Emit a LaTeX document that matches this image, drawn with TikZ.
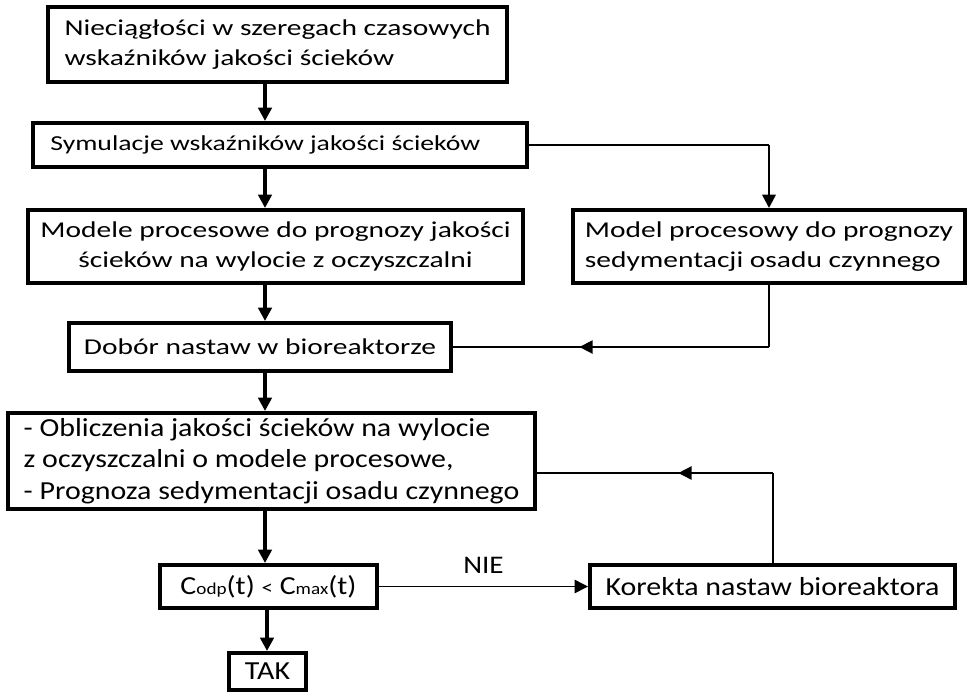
\documentclass[tikz,border=0pt]{standalone}
\usepackage{fontspec}
\setmainfont{Carlito}
\newfontfamily\widefont[FakeStretch=1.3]{Carlito}
\newfontfamily\lowfont[FakeStretch=1.15]{Carlito}
\usetikzlibrary{arrows.meta,decorations.markings,calc}
\begin{document}
\begin{tikzpicture}[x=0.75pt,y=-0.75pt,
  box/.style={draw, line width=3pt, inner sep=0pt, fill=white},
  topbox/.style={box, font=\widefont\fontsize{17}{22.5}\selectfont},
  lowbox/.style={box, font=\lowfont\fontsize{19.5}{23.5}\selectfont},
  tip/.style={-{Triangle[length=10pt,width=10pt]}},
  thickarrow/.style={line width=2.6pt, tip},
  thinline/.style={line width=1.2pt},
  midarrow/.style={postaction={decorate}, decoration={markings,
      mark=at position #1 with {\arrow{Triangle[length=10pt,width=10pt]}}}}
  ]
\useasboundingbox (0,0) rectangle (967,694);
% boxes
\node[topbox, minimum width=344.25pt, minimum height=56.25pt, align=left] (n1) at (277.5,44.5)
  {Nieciągłości w szeregach czasowych\\wskaźników jakości ścieków};
\node[topbox, font=\widefont\fontsize{16}{20}\selectfont, minimum width=370.5pt, minimum height=33pt] (n2) at (280,145)
  {Symulacje wskaźników jakości ścieków\hspace*{22pt}};
\node[topbox, minimum width=371.25pt, minimum height=54.75pt, align=center] (n3) at (275.5,246.5)
  {Modele procesowe do prognozy jakości\\ścieków na wylocie z oczyszczalni};
\node[topbox, minimum width=294pt, minimum height=54.75pt, align=left] (n6) at (769,246.5)
  {Model procesowy do prognozy\\sedymentacji osadu czynnego};
\node[topbox, minimum width=286.5pt, minimum height=36pt] (n4) at (260,347)
  {Dobór nastaw w bioreaktorze};
\node[lowbox, minimum width=395.25pt, minimum height=72pt, align=left] (n5) at (271.5,461)
  {- Obliczenia jakości ścieków na wylocie\\z oczyszczalni o modele procesowe,\\- Prognoza sedymentacji osadu czynnego};
\node[lowbox, minimum width=162.75pt, minimum height=32.25pt] (n7) at (268.5,586.5)
  {C{\fontsize{12.5}{12.5}\selectfont odp}(t) {\fontsize{15}{15}\selectfont <} C{\fontsize{12.5}{12.5}\selectfont max}(t)};
\node[lowbox, minimum width=273.75pt, minimum height=32.25pt] (n8) at (772.5,586.5)
  {Korekta nastaw bioreaktora};
\node[lowbox, minimum width=57.75pt, minimum height=27.75pt] (n9) at (267.5,671.5)
  {TAK};
% arrow column
\coordinate (ax) at (265,0);
\coordinate (bx) at (267,0);
\draw[thickarrow] (n1.south -| ax) -- (n2.north -| ax);
\draw[thickarrow] (n2.south -| ax) -- (n3.north -| ax);
\draw[thickarrow] (n3.south -| ax) -- (n4.north -| ax);
\draw[thickarrow] (n4.south -| ax) -- (n5.north -| ax);
\draw[thickarrow] (n5.south -| ax) -- (n7.north -| ax);
\draw[thickarrow] (n7.south -| bx) -- (n9.north -| bx);
% side connections
\draw[thinline] (n2.east) -- (n2.east -| n6.north);
\draw[line width=1.8pt, tip] (n2.east -| n6.north) -- (n6.north);
\draw[line width=1.8pt] (n6.south) -- (n6.south |- n4.east);
\draw[thinline, midarrow=0.6] (n6.south |- n4.east) -- (n4.east);
\draw[line width=1.5pt] (n8.north) -- (n8.north |- 0,473);
\draw[thinline, midarrow=0.4] (n8.north |- 0,473) -- (n5.east |- 0,473);
\draw[thinline, tip] (n7.east) -- (n8.west)
  node[midway, above=6pt, font=\lowfont\fontsize{19}{20}\selectfont] (nie) {NIE};
\end{tikzpicture}
\end{document}
